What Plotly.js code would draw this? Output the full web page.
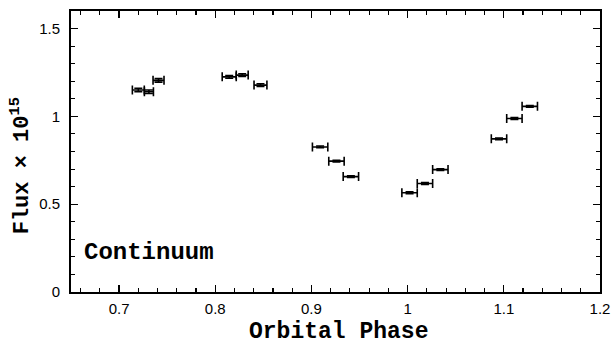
<!DOCTYPE html>
<html>
<head>
<meta charset="utf-8">
<script src="https://cdn.plot.ly/plotly-3.0.1.min.js"></script>
<style>html,body{margin:0;padding:0;background:#fff;}#chart{width:613px;height:344px;}</style>
</head>
<body>
<div id="chart"></div>
<script>
const phase    = [0.720, 0.731, 0.741, 0.8145, 0.828, 0.847, 0.909, 0.926, 0.941, 1.002, 1.018, 1.034, 1.095, 1.111, 1.127];
const flux     = [1.150, 1.140, 1.205, 1.225, 1.235, 1.178, 0.826, 0.745, 0.657, 0.565, 0.618, 0.697, 0.872, 0.988, 1.057];
const phaseErr = [0.0062, 0.0047, 0.0057, 0.0073, 0.0062, 0.0067, 0.008, 0.008, 0.008, 0.008, 0.008, 0.008, 0.008, 0.008, 0.008];
const fluxErr  = [0.010, 0.010, 0.010, 0.008, 0.008, 0.008, 0.005, 0.005, 0.005, 0.005, 0.005, 0.005, 0.005, 0.005, 0.005];
const xTitle = 'Orbital Phase';
const yTitle = 'Flux × 10<sup>15</sup>';
const label = 'Continuum';

const slab = '"Liberation Mono", "Courier New", monospace';
const sans = '"Liberation Sans", Arial, sans-serif';

const trace = {
  x: phase, y: flux, type: 'scatter', mode: 'markers',
  marker: {size: 1, color: 'black', opacity: 0},
  error_x: {type: 'data', array: phaseErr, visible: true, color: 'black', thickness: 1.6, width: 4.5},
  error_y: {type: 'data', array: fluxErr, visible: true, color: 'black', thickness: 1.6, width: 4},
  hoverinfo: 'skip', showlegend: false
};

const axisCommon = {
  showgrid: false, zeroline: false, showline: true, linecolor: 'black', linewidth: 2,
  mirror: 'allticks', ticks: 'inside', ticklen: 7, tickwidth: 1.3, tickcolor: 'black',
  tickfont: {family: sans, size: 15, color: 'black'}
};

const layout = {
  width: 613, height: 344,
  margin: {l: 71, r: 13, t: 11, b: 52},
  paper_bgcolor: 'white', plot_bgcolor: 'white',
  xaxis: Object.assign({}, axisCommon, {
    range: [0.65, 1.2], tick0: 0.7, dtick: 0.1, ticklabelstandoff: 2,
    minor: {dtick: 0.02, ticks: 'inside', ticklen: 4, tickwidth: 1.1, tickcolor: 'black'}
  }),
  yaxis: Object.assign({}, axisCommon, {
    range: [0, 1.6], tick0: 0, dtick: 0.5, ticklabelstandoff: 6,
    minor: {dtick: 0.1, ticks: 'inside', ticklen: 4, tickwidth: 1.1, tickcolor: 'black'}
  }),
  annotations: [
    {
      text: xTitle, xref: 'paper', yref: 'paper', x: 0.506, y: -0.143,
      xanchor: 'center', yanchor: 'middle', showarrow: false,
      font: {family: slab, size: 23, color: 'black', weight: 'bold'}
    },
    {
      text: yTitle, xref: 'paper', yref: 'paper', x: -0.095, y: 0.45, textangle: -90,
      xanchor: 'center', yanchor: 'middle', showarrow: false,
      font: {family: slab, size: 22, color: 'black', weight: 'bold'}
    },
    {
      text: label, xref: 'paper', yref: 'paper', x: 0.02, y: 0.139,
      xanchor: 'left', yanchor: 'middle', showarrow: false,
      font: {family: slab, size: 24, color: 'black', weight: 'bold'}
    }
  ]
};

Plotly.newPlot('chart', [trace], layout, {staticPlot: true, displayModeBar: false});
</script>
</body>
</html>
